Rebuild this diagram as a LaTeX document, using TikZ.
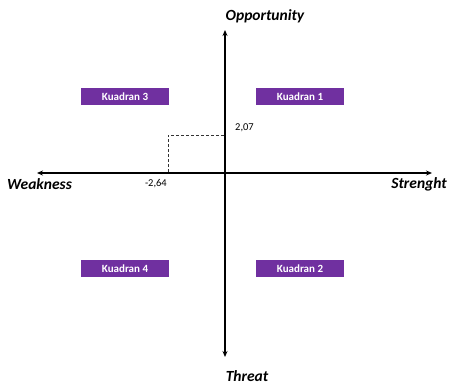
\documentclass[tikz,border=0pt]{standalone}
\usepackage{fontspec}
\setmainfont{Carlito}
\usetikzlibrary{arrows.meta}
\definecolor{kpurple}{HTML}{7030A0}
\tikzset{
  axis/.style={line width=1.3pt,-{Stealth[length=6pt,width=5pt]}},
  quad/.style={fill=kpurple,text=white,font=\bfseries\fontsize{11}{13}\selectfont,minimum width=88pt,minimum height=17pt,inner sep=0pt},
  axlabel/.style={font=\bfseries\itshape\fontsize{15.5}{18}\selectfont,inner sep=0pt},
  val/.style={font=\fontsize{10.5}{12}\selectfont,inner sep=0pt},
  guide/.style={densely dashed,line width=0.4pt,black!80}
}
\begin{document}
\begin{tikzpicture}[x=1pt,y=-1pt]
\useasboundingbox (0,0) rectangle (449,386);
\coordinate (o) at (225,173);
\coordinate (top) at (225,30);
\coordinate (bot) at (225,357);
\coordinate (left) at (37,173);
\coordinate (right) at (432,173);
\draw[axis] (o) -- (top);
\draw[axis] (o) -- (bot);
\draw[axis] (o) -- (left);
\draw[axis] (o) -- (right);
\coordinate (p) at (168,135);
\coordinate (py) at (224,135);
\coordinate (px) at (168,172);
\draw[guide] (px) -- (p) -- (py);
\node[quad] (q3) at (125,96.5) {Kuadran 3};
\node[quad] (q1) at (300,96.5) {Kuadran 1};
\node[quad] (q4) at (125,268.5) {Kuadran 4};
\node[quad] (q2) at (300,268.5) {Kuadran 2};
\node[axlabel] (opp) at (265,16) {Opportunity};
\node[axlabel] (thr) at (247,376.5) {Threat};
\node[axlabel,anchor=west] (weak) at (7,184) {Weakness};
\node[axlabel,anchor=east] (str) at (447,184) {Strenght};
\node[val,anchor=west] (v1) at (235,128) {2,07};
\node[val,anchor=east] (v2) at (167,184) {-2,64};
\end{tikzpicture}
\end{document}
